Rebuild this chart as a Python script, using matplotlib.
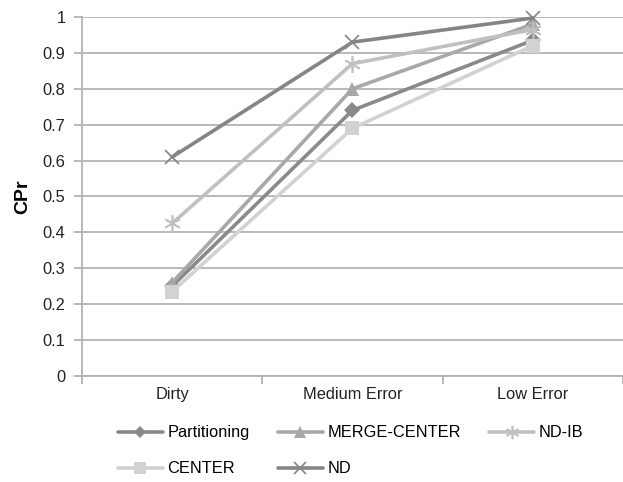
import matplotlib
matplotlib.use('Agg')
import matplotlib.pyplot as plt

#######################################################################
#                                Data                                 #
#######################################################################
categories = ['Dirty', 'Medium Error', 'Low Error']
partitioning = [0.25, 0.74, 0.935]
merge_center = [0.26, 0.80, 0.98]
nd_ib = [0.425, 0.87, 0.965]
center = [0.235, 0.69, 0.92]
nd = [0.61, 0.93, 0.997]
yticks = [0, 0.1, 0.2, 0.3, 0.4, 0.5, 0.6, 0.7, 0.8, 0.9, 1]

plt.rcParams['font.family'] = ['Liberation Sans', 'DejaVu Sans']
fs = 11.8

fig = plt.figure(figsize=(6.23, 4.82), dpi=100)
ax = fig.add_axes([0.1316, 0.22, 0.8684, 0.7448])

xs = [0.5, 1.5, 2.5]
series = [
    ('Partitioning', partitioning, '#8a8a8a', 'D', 8),
    ('MERGE-CENTER', merge_center, '#a8a8a8', '^', 10),
    ('ND-IB', nd_ib, '#c0c0c0', (6, 2, 0), 12),
    ('CENTER', center, '#d2d2d2', 's', 10),
    ('ND', nd, '#858585', 'x', 10),
]
handles = {}
for name, vals, col, mk, ms in series:
    h, = ax.plot(xs, vals, color=col, lw=2.6, marker=mk, markersize=ms,
                 markeredgewidth=1.2 if mk in ('x',) or isinstance(mk, tuple) else 0,
                 markeredgecolor=col, markerfacecolor=col, label=name,
                 solid_capstyle='round', clip_on=False)
    handles[name] = h

grid_col = '#b3b3b3'
ax.set_xlim(0, 3)
ax.set_ylim(0, 1)
ax.set_yticks(yticks)
ax.set_yticklabels(['0'] + ['%.1f' % t for t in yticks[1:-1]] + ['1'])
ax.set_xticks([0, 1, 2, 3])
ax.set_xticklabels([])
ax.set_xticks(xs, minor=True)
ax.set_xticklabels(categories, minor=True)
ax.tick_params(axis='x', which='minor', length=0, pad=8, labelsize=fs, colors='#222222')
ax.tick_params(axis='x', which='major', length=6, direction='out', color=grid_col, width=1.3)
ax.tick_params(axis='y', length=6, direction='out', color=grid_col, width=1.3,
               labelsize=fs, pad=6, labelcolor='#222222')
ax.grid(axis='y', color=grid_col, lw=1.3)
ax.set_axisbelow(True)
for s in ['top', 'right']:
    ax.spines[s].set_visible(False)
for s in ['left', 'bottom']:
    ax.spines[s].set_color(grid_col)
    ax.spines[s].set_linewidth(1.3)

ax.set_ylabel('CPr', fontsize=14, fontweight='bold', labelpad=8)

order = ['Partitioning', 'CENTER', 'MERGE-CENTER', 'ND', 'ND-IB']
leg = fig.legend([handles[n] for n in order], order, ncol=3, frameon=False,
                 loc='upper left', bbox_to_anchor=(0.165, 0.148),
                 fontsize=fs, handlelength=2.75, handletextpad=0.3,
                 columnspacing=1.7, labelspacing=1.28, markerscale=0.8)

fig.savefig('out.png', dpi=100)
